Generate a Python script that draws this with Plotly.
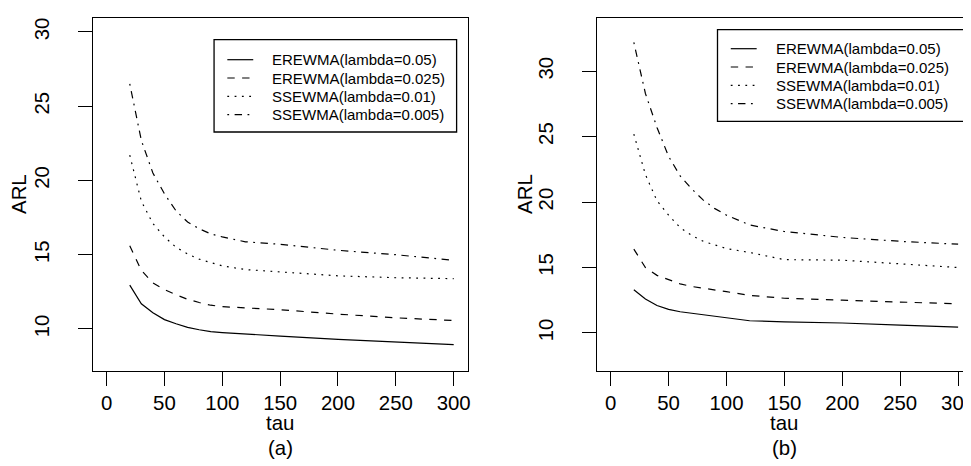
import plotly.graph_objects as go

W, H = 971, 466

tau = [20, 30, 40, 50, 60, 70, 80, 90, 100, 120, 150, 200, 250, 300]
series_names = ["EREWMA(lambda=0.05)", "EREWMA(lambda=0.025)",
                "SSEWMA(lambda=0.01)", "SSEWMA(lambda=0.005)"]

# Panel (a)
a_erewma_005 = [12.95, 11.7, 11.1, 10.63, 10.35, 10.11, 9.95, 9.82, 9.76, 9.65, 9.52, 9.3, 9.12, 8.94]
a_erewma_0025 = [15.6, 13.95, 13.1, 12.65, 12.3, 12.0, 11.78, 11.6, 11.5, 11.42, 11.3, 11.0, 10.75, 10.57]
a_ssewma_001 = [21.7, 18.6, 17.1, 16.2, 15.5, 15.05, 14.7, 14.45, 14.25, 14.0, 13.85, 13.58, 13.45, 13.39]
a_ssewma_0005 = [26.5, 22.7, 20.5, 19.1, 17.95, 17.2, 16.75, 16.4, 16.2, 15.87, 15.7, 15.3, 15.0, 14.62]

# Panel (b)
b_erewma_005 = [13.3, 12.6, 12.1, 11.8, 11.62, 11.5, 11.4, 11.3, 11.18, 10.93, 10.85, 10.76, 10.6, 10.45]
b_erewma_0025 = [16.4, 15.0, 14.4, 14.05, 13.75, 13.55, 13.4, 13.25, 13.15, 12.87, 12.65, 12.5, 12.35, 12.22]
b_ssewma_001 = [25.2, 22.1, 20.1, 19.0, 18.05, 17.45, 17.0, 16.7, 16.45, 16.15, 15.6, 15.56, 15.3, 15.0]
b_ssewma_0005 = [32.2, 28.3, 25.7, 23.5, 22.0, 21.0, 20.15, 19.5, 19.0, 18.25, 17.75, 17.3, 17.0, 16.78]

x_ticks = [0, 50, 100, 150, 200, 250, 300]
y_ticks = [10, 15, 20, 25, 30]

dashes = ["solid", "7.4px,7.4px", "1.8px,5.5px", "1.8px,5.5px,7.4px,5.5px"]
FONT = "Liberation Sans, Arial, sans-serif"
LW = 1.2

fig = go.Figure()

panels = [
    ("x", "y", [a_erewma_005, a_erewma_0025, a_ssewma_001, a_ssewma_0005]),
    ("x2", "y2", [b_erewma_005, b_erewma_0025, b_ssewma_001, b_ssewma_0005]),
]
for xa, ya, data in panels:
    for name, vals, d in zip(series_names, data, dashes):
        fig.add_trace(go.Scatter(
            x=tau, y=vals, mode="lines", name=name, showlegend=False,
            line=dict(color="black", width=LW, dash=d),
            xaxis=xa, yaxis=ya, hoverinfo="skip"))


def px_x(p):
    return p / W


def px_y(p):
    return 1 - p / H


axis_common = dict(showline=True, mirror=True, linecolor="black", linewidth=1,
                   ticks="outside", ticklen=14, tickwidth=1, tickcolor="black",
                   showgrid=False, zeroline=False,
                   tickfont=dict(family=FONT, size=20.4, color="black"))

fig.update_layout(
    width=W, height=H,
    margin=dict(l=0, r=0, t=0, b=0),
    paper_bgcolor="white", plot_bgcolor="white",
    font=dict(family=FONT, color="black"),
    showlegend=False,
    xaxis=dict(domain=[px_x(85), px_x(461)], range=[-12, 312], tickvals=x_ticks,
               ticklabelstandoff=0, anchor="y", **axis_common),
    yaxis=dict(domain=[px_y(363), px_y(10)], range=[7.17, 30.94], tickvals=y_ticks,
               tickangle=-90, ticklabelstandoff=21, anchor="x", **axis_common),
    xaxis2=dict(domain=[px_x(590.6), px_x(967)], range=[-12, 312], tickvals=x_ticks,
                ticklabelstandoff=0, anchor="y2", **axis_common),
    yaxis2=dict(domain=[px_y(363), px_y(10)], range=[7.09, 34.07], tickvals=y_ticks,
                tickangle=-90, ticklabelstandoff=21, anchor="x2", **axis_common),
)

ann = []
shapes = []
title_font = dict(family=FONT, size=20.4, color="black")
legend_font = dict(family=FONT, size=15, color="black")

panel_cfg = [
    # xref, ARL x, legend box (l, r, t, b), sample x0, x1, text x, row ys
    ("x", 11, (206.7, 450, 31.7, 124), 220, 246, 263.3, [51.7, 70, 88.3, 106.7]),
    ("x2", 518.5, (711.7, 962.5, 21.7, 113.3), 725, 751, 768.3, [40.7, 59, 77.3, 95.7]),
]
labels = ["(a)", "(b)"]
for (xr, arl_x, box, sx0, sx1, tx, rows), lab in zip(panel_cfg, labels):
    ann.append(dict(text="tau", x=150, xref=xr, y=px_y(415), yref="paper",
                    showarrow=False, font=title_font,
                    xanchor="center", yanchor="middle"))
    ann.append(dict(text=lab, x=150, xref=xr, y=px_y(440), yref="paper",
                    showarrow=False, font=title_font,
                    xanchor="center", yanchor="middle"))
    ann.append(dict(text="ARL", x=px_x(arl_x), y=px_y(186), xref="paper", yref="paper",
                    showarrow=False, textangle=-90, font=title_font,
                    xanchor="center", yanchor="middle"))
    l, r, t, b = box
    shapes.append(dict(type="rect", xref="paper", yref="paper",
                       x0=px_x(l), x1=px_x(r), y0=px_y(b), y1=px_y(t),
                       line=dict(color="black", width=1.3), fillcolor="white",
                       layer="above"))
    for name, d, ry in zip(series_names, dashes, rows):
        shapes.append(dict(type="line", xref="paper", yref="paper",
                           x0=px_x(sx0), x1=px_x(sx1), y0=px_y(ry), y1=px_y(ry),
                           line=dict(color="black", width=LW, dash=d), layer="above"))
        ann.append(dict(text=name, x=px_x(tx), y=px_y(ry), xref="paper", yref="paper",
                        showarrow=False, font=legend_font,
                        xanchor="left", yanchor="middle"))

fig.update_layout(annotations=ann, shapes=shapes)

fig.write_html("out.html")
